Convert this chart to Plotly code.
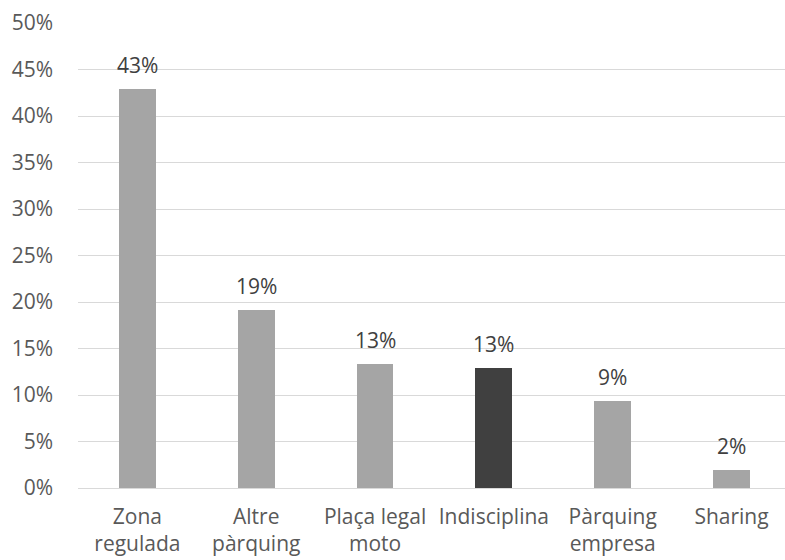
import plotly.graph_objects as go

categories = ["Zona<br>regulada", "Altre<br>pàrquing", "Plaça legal<br>moto",
              "Indisciplina", "Pàrquing<br>empresa", "Sharing"]
shares = [42.9, 19.1, 13.3, 12.9, 9.4, 1.9]
bar_colors = ["#a5a5a5", "#a5a5a5", "#a5a5a5", "#404040", "#a5a5a5", "#a5a5a5"]
y_ticks = [0, 5, 10, 15, 20, 25, 30, 35, 40, 45, 50]

fig = go.Figure(
    go.Bar(
        x=list(range(len(categories))),
        y=shares,
        marker=dict(color=bar_colors, line=dict(width=0)),
        width=0.31,
        hoverinfo="skip",
    )
)

# value labels above each bar, rounded from the bar value
for i, v in enumerate(shares):
    fig.add_annotation(
        x=i, y=v, text=f"{v:.0f}%", showarrow=False,
        yanchor="bottom", yshift=8,
        font=dict(size=21, color="#404040"),
    )

fig.update_layout(
    width=785,
    height=560,
    margin=dict(l=78, r=0, t=23, b=72),
    paper_bgcolor="white",
    plot_bgcolor="white",
    font=dict(family="Open Sans", size=21, color="#595959"),
    showlegend=False,
    bargap=0,
)

fig.update_xaxes(
    tickmode="array",
    tickvals=list(range(len(categories))),
    ticktext=categories,
    range=[-0.5, 5.45],
    showgrid=False,
    showline=False,
    zeroline=False,
    ticks="",
    ticklabelstandoff=14,
)

fig.update_yaxes(
    range=[0, 50],
    tickmode="array",
    tickvals=y_ticks,
    ticktext=[f"{v}%" for v in y_ticks],
    showgrid=True,
    gridcolor="#d9d9d9",
    gridwidth=1,
    zeroline=True,
    zerolinecolor="#d9d9d9",
    zerolinewidth=1,
    showline=False,
    ticks="",
    ticklabelstandoff=24,
)

fig.write_html("out.html")
